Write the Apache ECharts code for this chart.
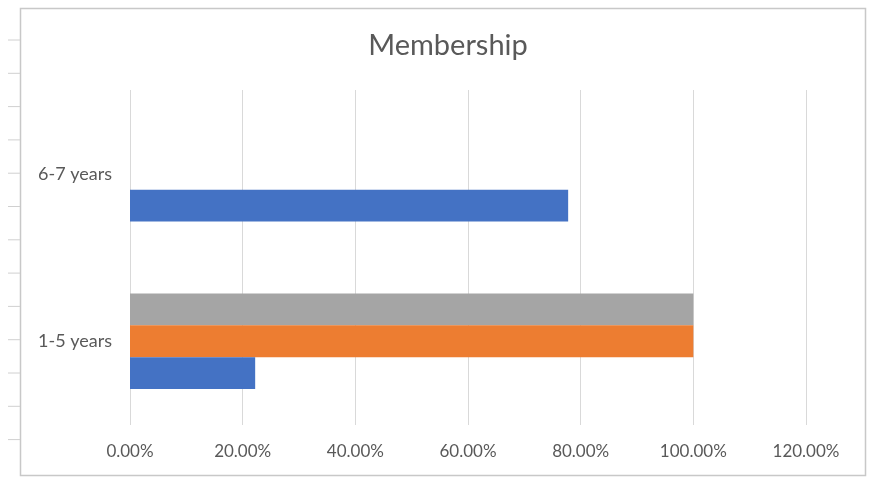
<!DOCTYPE html>
<html>
<head>
<meta charset="utf-8">
<style>
  html, body { margin: 0; padding: 0; background: #fff; }
  #chart { width: 870px; height: 478px; }
</style>
<script src="https://cdn.jsdelivr.net/npm/echarts@6/dist/echarts.min.js"></script>
</head>
<body>
<div id="chart"></div>
<script>
const titleText = 'Membership';
const categories = ['1-5 years', '6-7 years'];
const seriesNames = ['Series1', 'Series2', 'Series3'];
const blueValues = [22.22, 77.78];
const orangeValues = [100, 0];
const grayValues = [100, 0];
const axisTicks = [0, 20, 40, 60, 80, 100, 120];

const chart = echarts.init(document.getElementById('chart'), null, { renderer: 'canvas' });
const font = 'Lato, "Open Sans", sans-serif';
const textColor = '#595959';

// decorative left-edge ticks (spreadsheet artifact)
const edgeTicks = [];
for (let i = 0; i < 13; i++) {
  const y = 40 + i * 33.3;
  edgeTicks.push({ type: 'line', shape: { x1: 8, y1: y, x2: 20, y2: y }, style: { stroke: '#d0d0d0', lineWidth: 1 }, silent: true });
}

const barCommon = { type: 'bar', barGap: '0%', barCategoryGap: '43%' };

chart.setOption({
  animation: false,
  backgroundColor: '#ffffff',
  title: {
    text: titleText,
    left: 443,
    textAlign: 'center',
    top: 26,
    textStyle: { fontFamily: font, fontSize: 29, fontWeight: 'normal', color: textColor }
  },
  grid: { left: 130, right: 64, top: 90, bottom: 53, containLabel: false },
  xAxis: {
    type: 'value',
    min: axisTicks[0],
    max: axisTicks[axisTicks.length - 1],
    interval: axisTicks[1] - axisTicks[0],
    axisLine: { show: false },
    axisTick: { show: false },
    splitLine: { show: true, lineStyle: { color: '#d9d9d9', width: 1 } },
    axisLabel: {
      formatter: v => v.toFixed(2) + '%',
      fontFamily: font, fontSize: 17, color: textColor, margin: 18
    }
  },
  yAxis: {
    type: 'category',
    data: categories,
    axisLine: { show: false },
    axisTick: { show: false },
    axisLabel: { fontFamily: font, fontSize: 18, color: textColor, margin: 18, align: 'right' }
  },
  series: [
    Object.assign({ name: seriesNames[2], data: grayValues, itemStyle: { color: '#a5a5a5' } }, barCommon),
    Object.assign({ name: seriesNames[1], data: orangeValues, itemStyle: { color: '#ed7d31' } }, barCommon),
    Object.assign({ name: seriesNames[0], data: blueValues, itemStyle: { color: '#4472c4' } }, barCommon)
  ],
  graphic: [
    { type: 'rect', shape: { x: 20.5, y: 8.5, width: 845, height: 467 }, style: { fill: 'none', stroke: '#c8c8c8', lineWidth: 1.5 }, silent: true }
  ].concat(edgeTicks)
});
</script>
</body>
</html>
